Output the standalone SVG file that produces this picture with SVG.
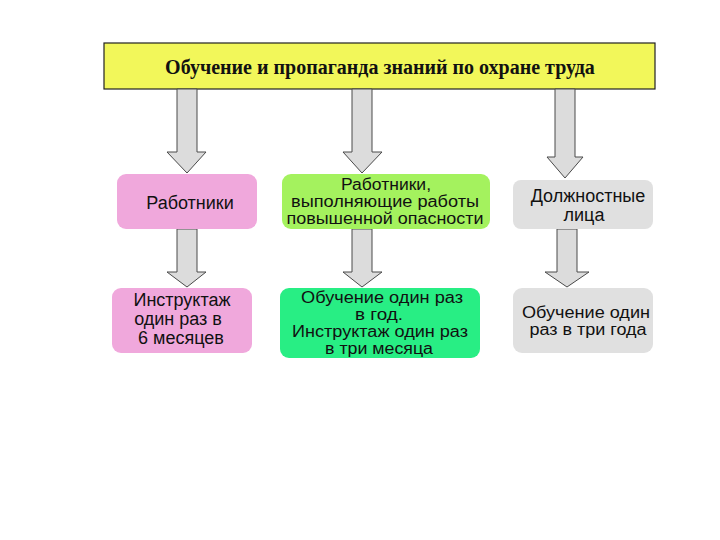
<svg xmlns="http://www.w3.org/2000/svg" width="720" height="540" viewBox="0 0 720 540">
<style>
.t{font-family:"Liberation Sans",Arial,sans-serif;font-size:18px;fill:#111;text-anchor:middle}
.s{font-size:16px}
.h{font-family:"Liberation Serif","Times New Roman",serif;font-size:20px;font-weight:bold;fill:#111;text-anchor:middle}
.ar{fill:#dcdcdc;stroke:#4a4a4a;stroke-width:1}
</style>
<rect width="720" height="540" fill="#fff"/>
<g id="title">
<rect x="104" y="43" width="551" height="46" fill="#f2f75a" stroke="#222" stroke-width="1.2"/>
<text class="h" x="380" y="74">Обучение и пропаганда знаний по охране труда</text>
</g>
<g id="connectors">
<path class="ar" d="M177,89 H197 V152 H206 L187,173 L167,152 H177 Z"/>
<path class="ar" d="M352,89 H372 V152 H382 L362,173 L343,152 H352 Z"/>
<path class="ar" d="M555,89 H575 V157 H583 L565,178 L547,157 H555 Z"/>
<path class="ar" d="M177,229 H197 V272 H206 L187,287 L167,272 H177 Z"/>
<path class="ar" d="M352,229 H372 V272 H382 L362,287 L343,272 H352 Z"/>
<path class="ar" d="M557,229 H577 V272 H589 L567,287 L545,272 H557 Z"/>
</g>
<g id="workers">
<rect x="117" y="174" width="140" height="55" rx="9" fill="#f0a8dc"/>
<text class="t" x="190" y="209">Работники</text>
</g>
<g id="hazard-workers">
<rect x="282" y="174" width="208" height="55" rx="9" fill="#a4f25e"/>
<text class="t s" x="386" y="190" textLength="90" lengthAdjust="spacingAndGlyphs">Работники,</text>
<text class="t s" x="385" y="207" textLength="188" lengthAdjust="spacingAndGlyphs">выполняющие работы</text>
<text class="t s" x="385" y="224" textLength="197" lengthAdjust="spacingAndGlyphs">повышенной опасности</text>
</g>
<g id="officials">
<rect x="513" y="180" width="140" height="49" rx="8" fill="#e0e0e0"/>
<text class="t" x="588" y="202">Должностные</text>
<text class="t" x="584" y="221">лица</text>
</g>
<g id="workers-training">
<rect x="112" y="288" width="140" height="65" rx="9" fill="#f0a8dc"/>
<text class="t" x="182" y="306">Инструктаж</text>
<text class="t" x="178" y="325">один раз в</text>
<text class="t" x="181" y="344">6 месяцев</text>
</g>
<g id="hazard-training">
<rect x="280" y="288" width="200" height="70" rx="9" fill="#28ee84"/>
<text class="t s" x="382" y="303" textLength="162" lengthAdjust="spacingAndGlyphs">Обучение один раз</text>
<text class="t s" x="379" y="320" textLength="48" lengthAdjust="spacingAndGlyphs">в год.</text>
<text class="t s" x="380" y="337" textLength="176" lengthAdjust="spacingAndGlyphs">Инструктаж один раз</text>
<text class="t s" x="379" y="354" textLength="108" lengthAdjust="spacingAndGlyphs">в три месяца</text>
</g>
<g id="officials-training">
<rect x="513" y="288" width="140" height="65" rx="9" fill="#e0e0e0"/>
<text class="t s" x="586" y="318" textLength="128" lengthAdjust="spacingAndGlyphs">Обучение один</text>
<text class="t s" x="588" y="335" textLength="117" lengthAdjust="spacingAndGlyphs">раз в три года</text>
</g>
</svg>
